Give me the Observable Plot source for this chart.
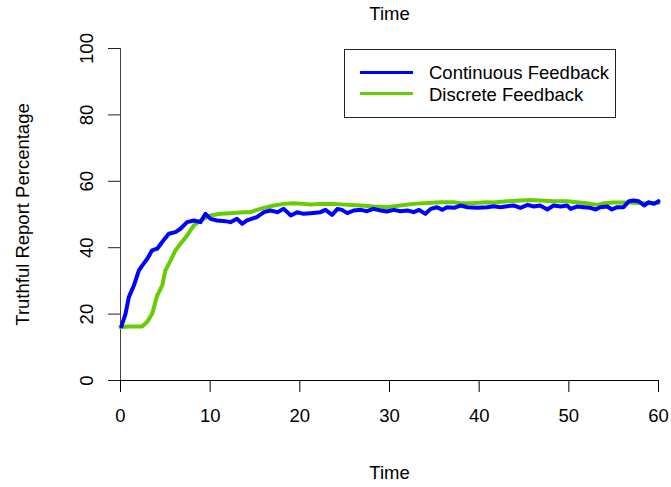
<!DOCTYPE html>
<html><head><meta charset="utf-8">
<script src="https://cdn.jsdelivr.net/npm/d3@7"></script>
<script src="https://cdn.jsdelivr.net/npm/@observablehq/plot@0.6"></script>
<style>
body{margin:0;background:#fff;font-family:"Liberation Sans",Arial,sans-serif;}
#wrap{position:relative;width:671px;height:487px;}
#legend{position:absolute;left:344px;top:49px;width:272px;height:69px;border:1px solid #222;background:#fff;box-sizing:border-box;}
.sw{position:absolute;left:15px;width:53px;height:0;border-top:3.5px solid;}
.lt{position:absolute;left:84px;font-size:18.5px;line-height:20px;color:#000;white-space:nowrap;}
</style></head>
<body><div id="wrap"></div>
<script>
const seriesNames = ["Continuous Feedback", "Discrete Feedback"];
const seriesColors = ["#0000ff", "#66cd00"];
const xTicks = [0, 10, 20, 30, 40, 50, 60];
const yTicks = [0, 20, 40, 60, 80, 100];

const contTime = [0.1,0.56,0.93,1.49,2.04,2.42,2.97,3.53,4.09,4.65,5.39,6.13,6.69,7.43,8.18,8.92,9.48,10.04,10.78,11.7,12.27,13.0,13.57,14.1,15.2,16.0,16.7,17.5,18.2,19.0,19.7,20.4,21.2,22.3,22.86,23.6,24.2,24.7,25.3,26.0,26.8,27.5,28.2,29.0,29.7,30.5,31.2,32.0,32.7,33.3,34.0,34.6,35.3,35.9,36.4,37.2,37.9,38.7,39.8,40.9,41.6,42.4,43.1,43.9,44.6,45.4,46.1,46.8,47.6,48.3,49.1,49.8,50.2,50.9,51.7,52.4,53.0,53.5,54.3,54.8,55.4,56.1,56.7,57.2,57.8,58.4,58.9,59.5,60.0];
const contValue = [16.3,20.1,25.1,28.6,33.1,34.6,36.6,39.2,39.7,41.7,44.2,44.7,45.7,47.7,48.2,47.7,50.2,48.7,48.2,48.0,47.7,48.7,47.2,48.2,49.2,50.7,51.2,50.7,51.7,49.7,50.7,50.2,50.4,50.7,51.4,49.9,51.7,51.4,50.4,51.2,51.4,51.0,51.7,51.2,50.9,51.4,51.0,51.2,50.7,51.4,50.2,51.7,52.2,51.4,52.2,52.0,52.7,52.2,52.0,52.2,52.5,52.2,52.5,52.7,52.0,52.9,52.4,52.7,51.5,52.7,52.4,52.7,51.7,52.4,52.2,52.0,51.5,52.2,52.4,51.5,52.2,52.2,54.0,54.2,54.0,52.7,53.7,53.2,54.0];

const discTime = [0,1.1,2.4,2.97,3.53,4.09,4.65,5.0,5.58,6.13,6.69,7.43,8.18,8.92,10.0,11.15,12.3,13.75,14.5,15.2,16.0,17.1,18.2,19.3,20.4,21.2,22.3,23.8,25.3,26.8,28.2,29.7,31.2,32.7,34.2,35.7,37.2,37.9,39.4,40.9,41.6,43.1,44.6,45.7,46.8,48.3,49.8,50.9,52.0,53.2,53.9,55.0,56.5,57.6,58.7,60.0];
const discValue = [16.1,16.3,16.3,17.6,20.1,25.6,28.6,33.1,36.1,39.2,41.2,43.7,46.7,48.2,49.7,50.2,50.4,50.7,50.7,51.4,52.0,52.7,53.2,53.4,53.2,53.0,53.2,53.2,52.9,52.7,52.4,52.2,52.7,53.2,53.5,53.7,53.7,53.4,53.5,53.7,53.6,54.0,54.2,54.4,54.2,54.0,54.0,53.7,53.4,52.9,53.4,53.6,53.6,53.5,53.4,53.5];

const cont = contTime.map((t, i) => ({t, v: contValue[i]}));
const disc = discTime.map((t, i) => ({t, v: discValue[i]}));
const fs = 18.5;
const txt = {fontSize: fs, textAnchor: "middle", lineAnchor: "middle"};

const chart = Plot.plot({
  width: 671, height: 487,
  marginTop: 48, marginRight: 13, marginBottom: 107, marginLeft: 120,
  style: {fontFamily: '"Liberation Sans", Arial, sans-serif', fontSize: fs + "px", background: "#fff"},
  x: {domain: [0, 60]},
  y: {domain: [0, 100]},
  marks: [
    Plot.ruleX([0], {y1: 0, y2: 100, stroke: "#444", strokeWidth: 1}),
    Plot.ruleY([0], {x1: 0, x2: 60, stroke: "#000", strokeWidth: 1}),
    Plot.axisY({ticks: yTicks, tickSize: 12, tickFormat: () => "", label: null, stroke: "#222"}),
    Plot.axisX({ticks: xTicks, tickSize: 12, tickFormat: () => "", label: null, stroke: "#000"}),
    Plot.text(yTicks, {y: d => d, text: d => String(d), frameAnchor: "left", dx: -33.5, rotate: -90, ...txt}),
    Plot.text(xTicks, {x: d => d, text: d => String(d), frameAnchor: "bottom", dy: 35.7, ...txt}),
    Plot.line(disc, {x: "t", y: "v", stroke: seriesColors[1], strokeWidth: 4}),
    Plot.line(cont, {x: "t", y: "v", stroke: seriesColors[0], strokeWidth: 4}),
    Plot.text(["Time"], {frameAnchor: "top", dy: -34, ...txt}),
    Plot.text(["Time"], {frameAnchor: "bottom", dy: 92.4, ...txt}),
    Plot.text(["Truthful Report Percentage"], {frameAnchor: "left", dx: -97.6, rotate: -90, ...txt})
  ]
});
const wrap = document.getElementById("wrap");
wrap.appendChild(chart);
const lg = document.createElement("div");
lg.id = "legend";
seriesNames.forEach((n, i) => {
  const s = document.createElement("div");
  s.className = "sw";
  s.style.top = (20.5 + i * 21.7) + "px";
  s.style.borderTopColor = seriesColors[i];
  lg.appendChild(s);
  const t = document.createElement("div");
  t.className = "lt";
  t.style.top = (13 + i * 21.7) + "px";
  t.textContent = n;
  lg.appendChild(t);
});
wrap.appendChild(lg);
</script></body></html>
